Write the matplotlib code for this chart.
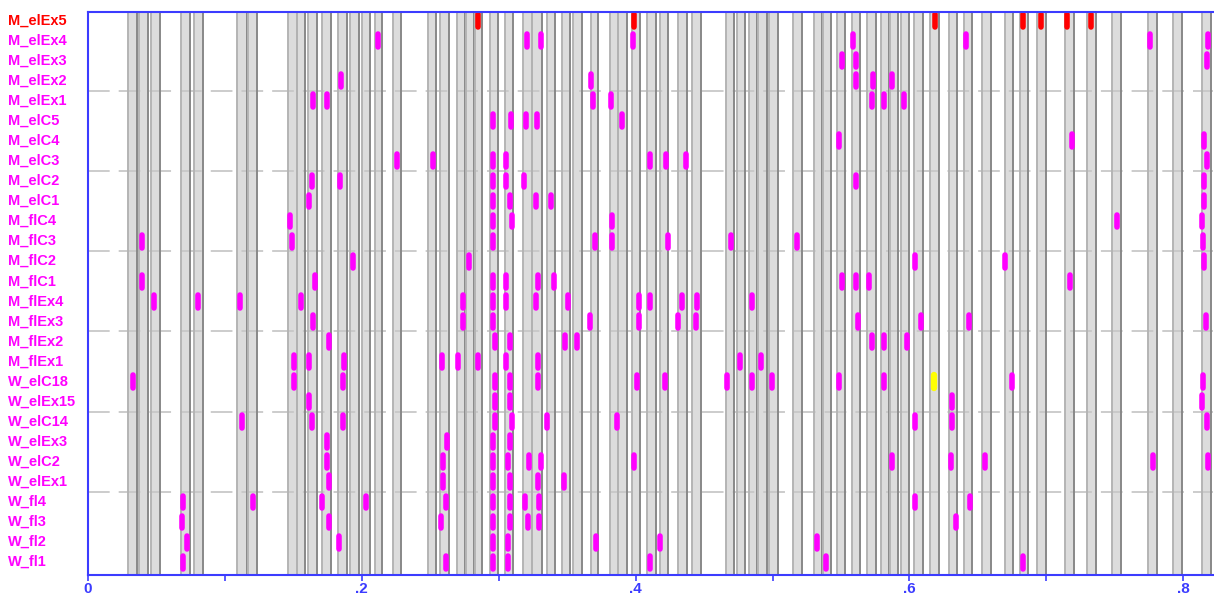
import matplotlib.pyplot as plt
from matplotlib import transforms

plt.rcParams['font.family'] = ['Liberation Sans', 'DejaVu Sans']
plt.rcParams['lines.scale_dashes'] = False

# series names, top to bottom
series = ['M_elEx5', 'M_elEx4', 'M_elEx3', 'M_elEx2', 'M_elEx1', 'M_elC5', 'M_elC4',
          'M_elC3', 'M_elC2', 'M_elC1', 'M_flC4', 'M_flC3', 'M_flC2', 'M_flC1',
          'M_flEx4', 'M_flEx3', 'M_flEx2', 'M_flEx1', 'W_elC18', 'W_elEx15', 'W_elC14',
          'W_elEx3', 'W_elC2', 'W_elEx1', 'W_fl4', 'W_fl3', 'W_fl2', 'W_fl1']
series_colors = ['#ff0000'] + ['#ff00ff'] * 27

# shaded intervals
band_start = [0.0290, 0.0375, 0.0460, 0.0677, 0.0776, 0.1091, 0.1171, 0.1459, 0.1529, 0.1609,
              0.1711, 0.1828, 0.1914, 0.1999, 0.2096, 0.2230, 0.2481, 0.2571, 0.2698, 0.2761,
              0.2827, 0.2936, 0.3046, 0.3175, 0.3241, 0.3351, 0.3460, 0.3545, 0.3672, 0.3813,
              0.3874, 0.3972, 0.4081, 0.4178, 0.4307, 0.4414, 0.4658, 0.4738, 0.4828, 0.4896,
              0.4974, 0.5152, 0.5305, 0.5367, 0.5469, 0.5578, 0.5693, 0.5793, 0.5858, 0.5939,
              0.6036, 0.6150, 0.6291, 0.6401, 0.6528, 0.6698, 0.6808, 0.6934, 0.7137, 0.7295,
              0.7482, 0.7741, 0.7923, 0.8140]
band_end = [0.0356, 0.0436, 0.0528, 0.0745, 0.0842, 0.1159, 0.1237, 0.1524, 0.1585, 0.1675,
            0.1773, 0.1890, 0.1980, 0.2060, 0.2150, 0.2286, 0.2540, 0.2639, 0.2754, 0.2822,
            0.2876, 0.2997, 0.3107, 0.3241, 0.3314, 0.3411, 0.3521, 0.3606, 0.3728, 0.3874,
            0.3935, 0.4032, 0.4149, 0.4239, 0.4373, 0.4478, 0.4721, 0.4799, 0.4889, 0.4957,
            0.5038, 0.5213, 0.5359, 0.5427, 0.5529, 0.5639, 0.5756, 0.5853, 0.5919, 0.5999,
            0.6101, 0.6216, 0.6350, 0.6459, 0.6594, 0.6759, 0.6869, 0.6996, 0.7202, 0.7361,
            0.7546, 0.7806, 0.7989, 0.8201]

# event times per series
m_elex5 = [0.2851, 0.3990, 0.6187, 0.6832, 0.6959, 0.7149, 0.7327]
m_elex4 = [0.2121, 0.3209, 0.3307, 0.3979, 0.5590, 0.6411, 0.7758, 0.8183]
m_elex3 = [0.5505, 0.5608, 0.8172]
m_elex2 = [0.1848, 0.3674, 0.5608, 0.5736, 0.5875]
m_elex1 = [0.1646, 0.1746, 0.3687, 0.3820, 0.5725, 0.5814, 0.5961]
m_elc5 = [0.2956, 0.3090, 0.3199, 0.3282, 0.3898]
m_elc4 = [0.5488, 0.7186, 0.8154]
m_elc3 = [0.2255, 0.2518, 0.2956, 0.3053, 0.4105, 0.4220, 0.4368, 0.8172]
m_elc2 = [0.1634, 0.1843, 0.2956, 0.3053, 0.3185, 0.5608, 0.8154]
m_elc1 = [0.1617, 0.2956, 0.3083, 0.3272, 0.3380, 0.8154]
m_flc4 = [0.1476, 0.2956, 0.3095, 0.3830, 0.7514, 0.8135]
m_flc3 = [0.0397, 0.1492, 0.2956, 0.3703, 0.3830, 0.4234, 0.4697, 0.5177, 0.8142]
m_flc2 = [0.1938, 0.2785, 0.6041, 0.6698, 0.8154]
m_flc1 = [0.0397, 0.1658, 0.2956, 0.3053, 0.3289, 0.3406, 0.5505, 0.5608, 0.5707, 0.7173]
m_flex4 = [0.0484, 0.0801, 0.1110, 0.1556, 0.2741, 0.2956, 0.3053, 0.3272, 0.3504, 0.4027,
           0.4105, 0.4341, 0.4451, 0.4852]
m_flex3 = [0.1646, 0.2741, 0.2956, 0.3667, 0.4027, 0.4312, 0.4439, 0.5622, 0.6085, 0.6435, 0.8164]
m_flex2 = [0.1760, 0.2973, 0.3083, 0.3484, 0.3574, 0.5725, 0.5814, 0.5980]
m_flex1 = [0.1507, 0.1617, 0.1870, 0.2588, 0.2705, 0.2847, 0.3053, 0.3289, 0.4763, 0.4916]
w_elc18 = [0.0327, 0.1507, 0.1860, 0.2973, 0.3083, 0.3289, 0.4008, 0.4215, 0.4665, 0.4852,
           0.4994, 0.5486, 0.5814, 0.6752, 0.8142]
w_elex15 = [0.1617, 0.2973, 0.3083, 0.6313, 0.8135]
w_elc14 = [0.1123, 0.1634, 0.1860, 0.2973, 0.3095, 0.3351, 0.3866, 0.6041, 0.6313, 0.8172]
w_elex3 = [0.1746, 0.2625, 0.2956, 0.3083]
w_elc2 = [0.1746, 0.2595, 0.2956, 0.3066, 0.3224, 0.3307, 0.3990, 0.5875, 0.6302, 0.6552,
          0.7782, 0.8179]
w_elex1 = [0.1760, 0.2595, 0.2956, 0.3083, 0.3289, 0.3479]
w_fl4 = [0.0692, 0.1203, 0.1707, 0.2031, 0.2613, 0.2956, 0.3083, 0.3192, 0.3297, 0.6041, 0.6443]
w_fl3 = [0.0684, 0.1760, 0.2579, 0.2956, 0.3083, 0.3216, 0.3297, 0.6338]
w_fl2 = [0.0721, 0.1833, 0.2956, 0.3066, 0.3711, 0.4178, 0.5327]
w_fl1 = [0.0692, 0.2613, 0.2956, 0.3066, 0.4105, 0.5391, 0.6832]

# single highlighted event
flag_series = 'W_elC18'
flag_time = [0.6182]

events = [m_elex5, m_elex4, m_elex3, m_elex2, m_elex1, m_elc5, m_elc4, m_elc3, m_elc2, m_elc1,
          m_flc4, m_flc3, m_flc2, m_flc1, m_flex4, m_flex3, m_flex2, m_flex1, w_elc18,
          w_elex15, w_elc14, w_elex3, w_elc2, w_elex1, w_fl4, w_fl3, w_fl2, w_fl1]

x_ticks = [0, 0.2, 0.4, 0.6, 0.8]
x_ticklabels = ['0', '.2', '.4', '.6', '.8']
x_minor = [0.1, 0.3, 0.5, 0.7]

blue = '#3c3cff'
n = len(series)
ypos = {name: n - i for i, name in enumerate(series)}

fig = plt.figure(figsize=(12.14, 5.94), dpi=100)
ax = fig.add_axes([88 / 1214, 19 / 594, 1125 / 1214, 563 / 594])

# shaded bands: fill, light left edge, dark right edge
for s, e in zip(band_start, band_end):
    ax.axvspan(s, e, color='#dcdcdc', lw=0, zorder=1)
    ax.axvline(s, color='#b4b4b4', lw=1.4, zorder=3)
    ax.axvline(e, color='#888888', lw=1.4, zorder=3)

# dashed separators every 4 rows
for y in range(4, n, 4):
    ax.axhline(y + 0.5, color='#c8c8c8', lw=1.3, dashes=(15.6, 6.5), zorder=2)

half = 0.32
for name, times, col in zip(series, events, series_colors):
    y = ypos[name]
    ax.vlines(times, y - half, y + half, colors=col, lw=4.0, capstyle='round',
              zorder=5, clip_on=False)
y = ypos[flag_series]
ax.vlines(flag_time, y - half, y + half, colors='#ffff00', lw=4.6, capstyle='round',
          zorder=5, clip_on=False)

# row labels at the left edge of the figure
trans = transforms.blended_transform_factory(fig.transFigure, ax.transData)
for name, col in zip(series, series_colors):
    ax.text(8 / 1214, ypos[name], name, transform=trans, ha='left', va='center',
            color=col, fontsize=10.5, fontweight='bold')

ax.set_xlim(0, 1125 / 1369)
ax.set_ylim(0.36, 28.42)
ax.set_yticks([])
ax.set_xticks(x_ticks, labels=x_ticklabels)
ax.set_xticks(x_minor, minor=True)
ax.tick_params(axis='x', which='both', direction='out', length=4, width=1.2,
               color=blue, labelcolor=blue, labelsize=11, pad=1)
for lab in ax.get_xticklabels():
    lab.set_fontweight('bold')

for side in ['left', 'top', 'bottom']:
    ax.spines[side].set_color(blue)
    ax.spines[side].set_linewidth(1.5)
    ax.spines[side].set_zorder(6)
ax.spines['right'].set_visible(False)

fig.savefig('out.png', dpi=100)
